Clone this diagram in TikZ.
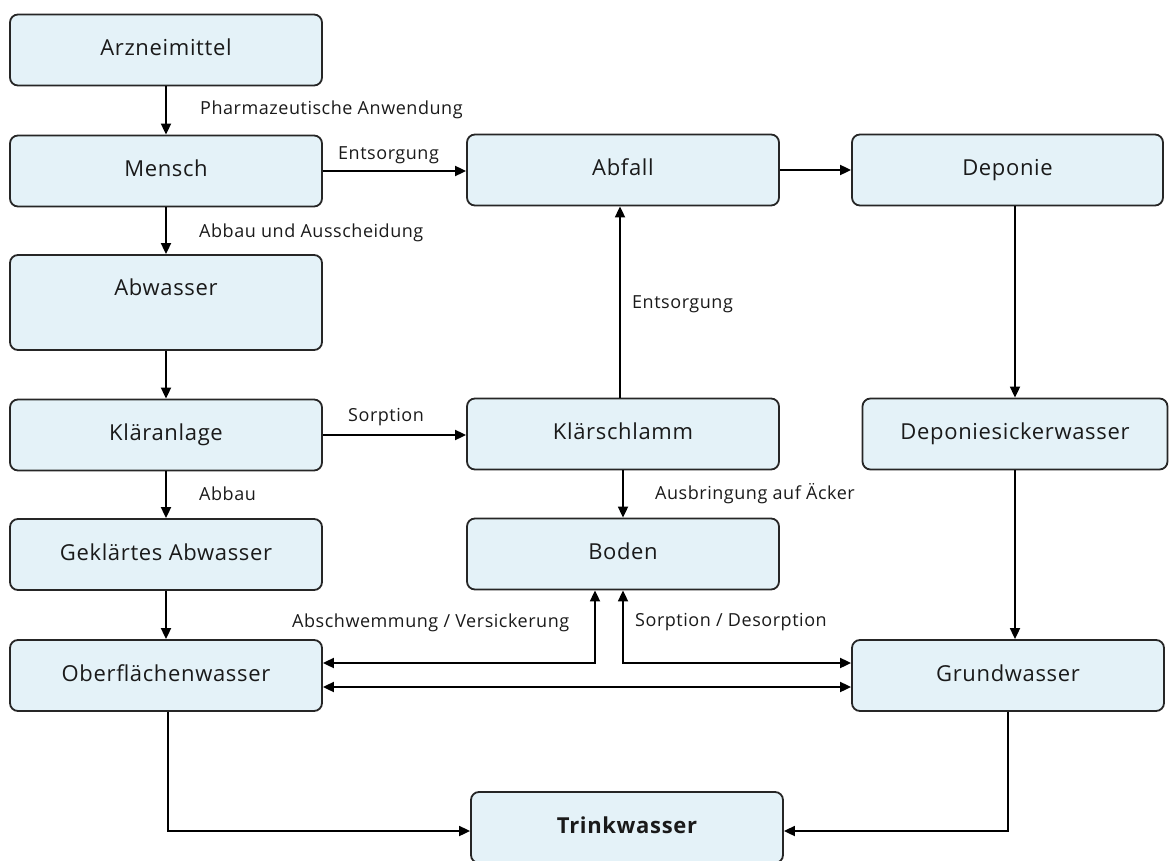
\documentclass[tikz,border=0pt]{standalone}
\usepackage{fontspec}
\setmainfont{Open Sans}
\newfontfamily\boxfont{Open Sans}[LetterSpace=3]
\newfontfamily\lblfont{Open Sans}[LetterSpace=3]
\usetikzlibrary{arrows.meta}
\definecolor{boxfill}{HTML}{E4F2F8}
\definecolor{boxline}{HTML}{262626}
\definecolor{txt}{HTML}{1A1A1A}
\begin{document}
\begin{tikzpicture}[x=1pt,y=-1pt,
  box/.style={draw=boxline, fill=boxfill, line width=1.8pt, rounded corners=8pt,
    minimum width=312pt, minimum height=71pt, inner sep=0pt,
    font=\boxfont\fontsize{22}{26}\selectfont, text=txt,
    text height=16pt, text depth=5pt},
  lbl/.style={font=\lblfont\fontsize{18}{22}\selectfont, inner sep=0pt, anchor=base west, text=txt},
  flow/.style={line width=1.8pt, -{Triangle[length=11pt,width=10pt]}},
  flowboth/.style={line width=1.8pt, {Triangle[length=11pt,width=10pt]}-{Triangle[length=11pt,width=10pt]}}]
\clip (0,0) rectangle (1169,861);
% left column
\node[box] (arz) at (166,50) {Arzneimittel};
\node[box] (mensch) at (166,171) {Mensch};
\node[box, minimum height=95pt, text depth=31pt] (abw) at (166,302.5) {Abwasser};
\node[box] (klaer) at (166,435) {Kläranlage};
\node[box] (gekl) at (166,554.5) {Geklärtes Abwasser};
\node[box] (ober) at (166,675.5) {Oberflächenwasser};
% middle column
\node[box] (abfall) at (623,170) {Abfall};
\node[box] (schlamm) at (623,434) {Klärschlamm};
\node[box] (boden) at (623,554) {Boden};
\node[box, font=\boxfont\bfseries\fontsize{22}{26}\selectfont] (trink) at (627,827.5) {Trinkwasser};
% right column
\node[box, minimum width=311pt] (dep) at (1007.5,170) {Deponie};
\node[box, minimum width=305pt] (sick) at (1015,434) {Deponiesickerwasser};
\node[box] (grund) at (1008,675.5) {Grundwasser};
% connectors
\draw[flow] (arz) -- (mensch);
\draw[flow] (mensch.east) -- (abfall.west |- mensch.east);
\draw[flow] (abfall.east) -- (dep.west |- abfall.east);
\draw[flow] (mensch) -- (abw);
\draw[flow] (abw) -- (klaer);
\draw[flow] (klaer.east) -- (schlamm.west |- klaer.east);
\draw[flow] ([xshift=-3pt]schlamm.north) -- ([xshift=-3pt]abfall.south);
\draw[flow] (klaer) -- (gekl);
\draw[flow] (schlamm) -- (boden);
\draw[flow] (gekl) -- (ober);
\draw[flow] (sick.north |- dep.south) -- (sick.north);
\draw[flow] (sick.south) -- (sick.south |- grund.north);
\draw[flowboth] ([yshift=12.5pt]ober.east) -| ([xshift=-28pt]boden.south);
\draw[flowboth] (boden.south) |- ([yshift=12.5pt]grund.west);
\draw[flowboth] ([yshift=-11.5pt]ober.east) -- ([yshift=-11.5pt]grund.west);
\draw[flow] ([xshift=2pt]ober.south) |- ([yshift=-3.5pt]trink.west);
\draw[flow] (grund.south) |- ([yshift=-3.5pt]trink.east);
% labels
\node[lbl] (l1) at (200,115) {Pharmazeutische Anwendung};
\node[lbl] (l2) at (338,160) {Entsorgung};
\node[lbl] (l3) at (199,237) {Abbau und Ausscheidung};
\node[lbl] (l4) at (348,421) {Sorption};
\node[lbl] (l5) at (199,500) {Abbau};
\node[lbl] (l6) at (632,308) {Entsorgung};
\node[lbl] (l7) at (655,499) {Ausbringung auf Äcker};
\node[lbl] (l8) at (292,627) {Abschwemmung / Versickerung};
\node[lbl] (l9) at (635,626) {Sorption / Desorption};
\end{tikzpicture}
\end{document}
